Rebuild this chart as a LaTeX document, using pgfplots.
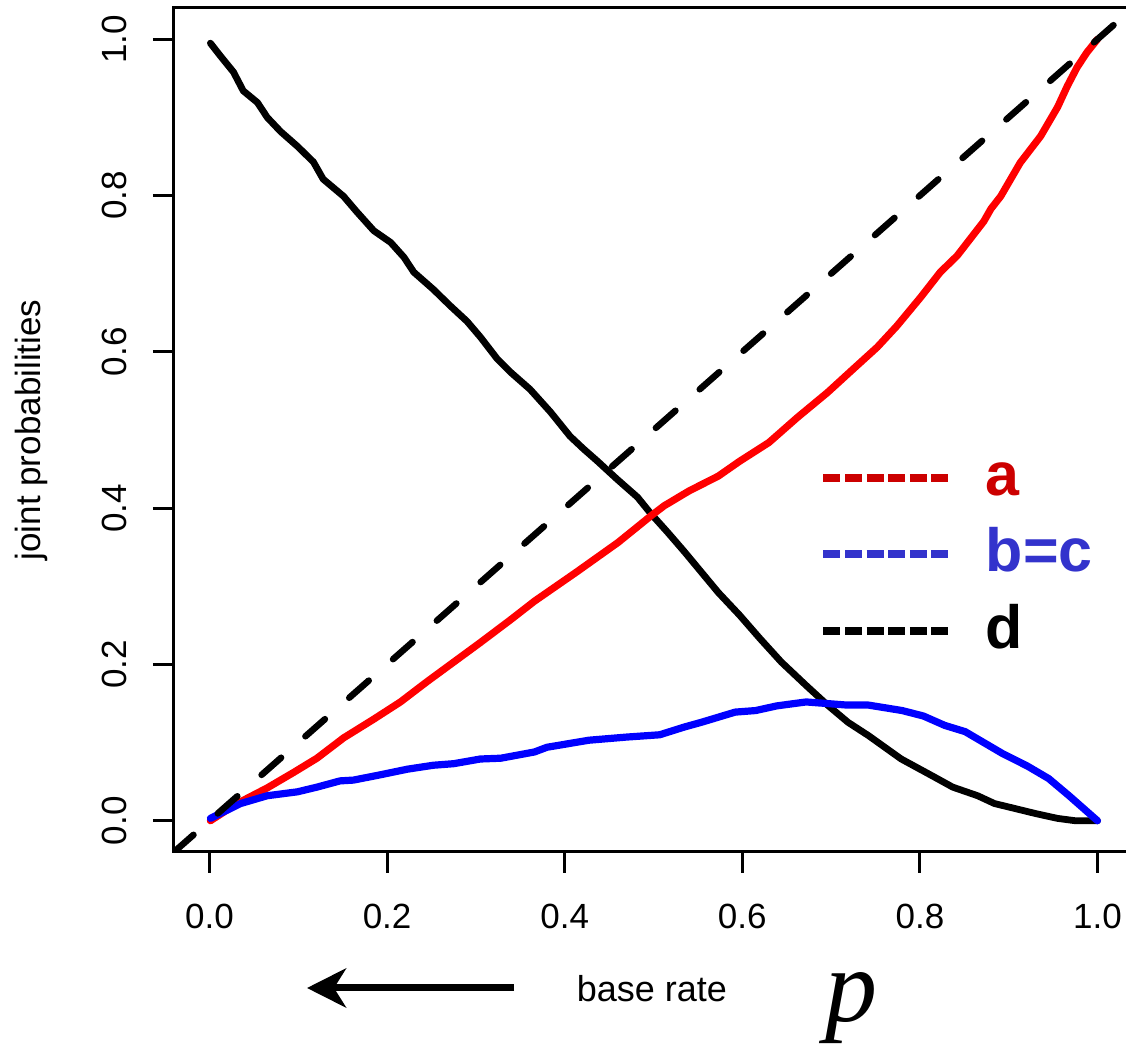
\documentclass[border=0pt]{standalone}
\usepackage{fontspec}
\setmainfont{Liberation Sans}
\newfontfamily\timesfont{Liberation Serif}
\usepackage{pgfplots}
\pgfplotsset{compat=1.18}
\usetikzlibrary{arrows.meta}
\definecolor{legred}{RGB}{204,0,0}
\definecolor{legblue}{RGB}{51,51,204}
\begin{document}
\begin{tikzpicture}
\begin{axis}[
  at={(0,0)}, anchor=south west,
  scale only axis, width=479.5pt, height=422pt,
  xmin=-0.04, xmax=1.04, ymin=-0.04, ymax=1.04,
  axis line style={line width=1.5pt, black},
  xtick={0,0.2,0.4,0.6,0.8,1}, ytick={0,0.2,0.4,0.6,0.8,1},
  tick pos=left, tick align=outside, major tick length=10.5pt,
  tick style={line width=1.5pt, black},
  tick label style={font=\fontsize{17.5}{21}\selectfont},
  /pgf/number format/.cd, fixed, fixed zerofill, precision=1, assume math mode=true, /pgfplots/.cd,
  xticklabel style={anchor=north, inner sep=0pt},
  xticklabel shift=15.5pt,
  yticklabel style={rotate=90, anchor=base, inner sep=0pt},
  yticklabel shift=13pt,
  ylabel={joint probabilities},
  every axis y label/.style={at={(rel axis cs:-0.1491,0.5)}, rotate=90, anchor=center, font=\fontsize{17.5}{21}\selectfont},
  xlabel={base rate},
  every axis x label/.style={at={(rel axis cs:0.4984,-0.1777)}, anchor=base, font=\fontsize{18}{21}\selectfont},
  every axis plot/.append style={line cap=round, line join=round},
]
% d
\addplot[black, line width=3.4pt] coordinates {
(0.001,0.995) (0.012,0.979) (0.027,0.958) (0.038,0.934) (0.054,0.919) (0.065,0.900)
(0.080,0.882) (0.099,0.863) (0.117,0.843) (0.128,0.821) (0.151,0.799) (0.166,0.779)
(0.185,0.755) (0.204,0.740) (0.219,0.721) (0.230,0.702) (0.252,0.680) (0.271,0.659)
(0.290,0.639) (0.305,0.619) (0.324,0.591) (0.339,0.574) (0.361,0.552) (0.384,0.523)
(0.406,0.492) (0.421,0.476) (0.437,0.460) (0.459,0.437) (0.482,0.414) (0.497,0.393)
(0.516,0.369) (0.535,0.344) (0.554,0.318) (0.573,0.292) (0.597,0.263) (0.620,0.233)
(0.644,0.203) (0.672,0.173) (0.696,0.148) (0.719,0.126) (0.742,0.109) (0.779,0.079)
(0.813,0.058) (0.837,0.043) (0.865,0.032) (0.884,0.022) (0.931,0.009) (0.955,0.003)
(0.975,0.000) (1.000,0.000)
};
% a
\addplot[red, line width=3.6pt] coordinates {
(0.001,0.000) (0.031,0.022) (0.065,0.042) (0.095,0.062) (0.121,0.080) (0.151,0.106)
(0.185,0.130) (0.215,0.152) (0.245,0.178) (0.275,0.203) (0.305,0.228) (0.340,0.258)
(0.366,0.281) (0.413,0.318) (0.460,0.356) (0.497,0.390) (0.512,0.403) (0.540,0.422)
(0.573,0.441) (0.597,0.460) (0.630,0.484) (0.662,0.516) (0.696,0.548) (0.722,0.575)
(0.752,0.606) (0.774,0.633) (0.801,0.670) (0.823,0.702) (0.842,0.723) (0.872,0.767)
(0.880,0.783) (0.891,0.799) (0.913,0.842) (0.936,0.876) (0.955,0.913) (0.966,0.940)
(0.977,0.964) (0.988,0.983) (1.000,1.000)
};
% b=c
\addplot[blue, line width=3.6pt] coordinates {
(0.001,0.003) (0.035,0.022) (0.065,0.032) (0.099,0.037) (0.121,0.043) (0.147,0.051)
(0.162,0.052) (0.189,0.058) (0.223,0.066) (0.252,0.071) (0.275,0.073) (0.305,0.079)
(0.328,0.080) (0.366,0.088) (0.380,0.094) (0.427,0.103) (0.469,0.107) (0.507,0.110)
(0.535,0.120) (0.554,0.126) (0.592,0.139) (0.615,0.141) (0.639,0.147) (0.672,0.152)
(0.718,0.148) (0.742,0.148) (0.780,0.141) (0.804,0.134) (0.828,0.122) (0.851,0.114)
(0.875,0.098) (0.893,0.086) (0.921,0.070) (0.945,0.054) (0.968,0.032) (1.000,0.000)
};
% diagonal
\addplot[black, line width=3.25pt, line cap=round, dash pattern=on 13pt off 16.18pt] coordinates {(-0.04,-0.04) (1.04,1.04)};
% legend
\draw[legred, line width=4pt, dash pattern=on 8.5pt off 2.3pt] (axis cs:0.6914,0.4386) -- (axis cs:0.8322,0.4386);
\draw[legblue, line width=4pt, dash pattern=on 8.5pt off 2.3pt] (axis cs:0.6914,0.3414) -- (axis cs:0.8322,0.3414);
\draw[black, line width=4pt, dash pattern=on 8.5pt off 2.3pt] (axis cs:0.6914,0.2430) -- (axis cs:0.8322,0.2430);
\node[anchor=base west, inner sep=0pt, text=legred, font=\bfseries\fontsize{30.5}{36}\selectfont] at (axis cs:0.874,0.4156) {a};
\node[anchor=base west, inner sep=0pt, text=legblue, font=\bfseries\fontsize{30.5}{36}\selectfont] at (axis cs:0.874,0.3184) {b=c};
\node[anchor=base west, inner sep=0pt, text=black, font=\bfseries\fontsize{30.5}{36}\selectfont] at (axis cs:0.874,0.2199) {d};
\end{axis}
\draw[line width=3.5pt, -{Stealth[length=19.5pt, width=19.5pt, inset=6pt]}] (170pt,-68pt) -- (66.5pt,-68pt);
\node[anchor=base, inner sep=0pt, font=\timesfont\itshape\fontsize{52}{60}\selectfont] at (338.5pt,-85pt) {p};
\pgfresetboundingbox
\useasboundingbox (-87pt,-96pt) rectangle (476pt,426pt);
\end{tikzpicture}
\end{document}
